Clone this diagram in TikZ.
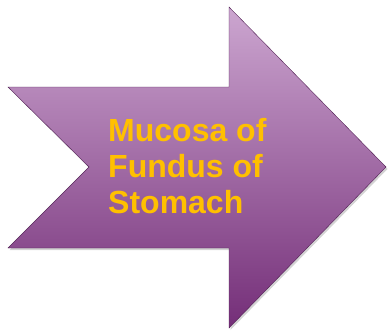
\documentclass[tikz,border=0pt]{standalone}
\usepackage{fontspec}
\setmainfont{Liberation Sans}
\usepackage{xcolor}
\usetikzlibrary{shadows, positioning}

\definecolor{arrowtop}{RGB}{204,166,208}
\definecolor{arrowbottom}{RGB}{116,46,120}
\definecolor{labelgold}{RGB}{255,192,0}

\begin{document}
\begin{tikzpicture}[
  x=1pt, y=-1pt,
  arrowbody/.style={top color=arrowtop, bottom color=arrowbottom, draw=arrowbottom!70!black, line width=0.4pt,
    drop shadow={opacity=0.35, shadow xshift=1.5pt, shadow yshift=-2pt}},
  label/.style={align=left, text=labelgold, font=\fontsize{32}{36}\selectfont\bfseries, inner sep=0pt}
]
  \useasboundingbox (0,0) rectangle (388,332);
  % notched arrow
  \coordinate (tailtop) at (8,87);
  \coordinate (notch) at (89,167);
  \coordinate (tailbottom) at (8,248);
  \coordinate (tip) at (386,167);
  \path[arrowbody] (tailtop) -- (229,87) -- (229,7) -- (tip) -- (229,328) -- (229,248)
    -- (tailbottom) -- (notch) -- cycle;

  \node[label, anchor=north west] (text) at (108,118) {Mucosa of\\Fundus of\\Stomach};
\end{tikzpicture}
\end{document}
